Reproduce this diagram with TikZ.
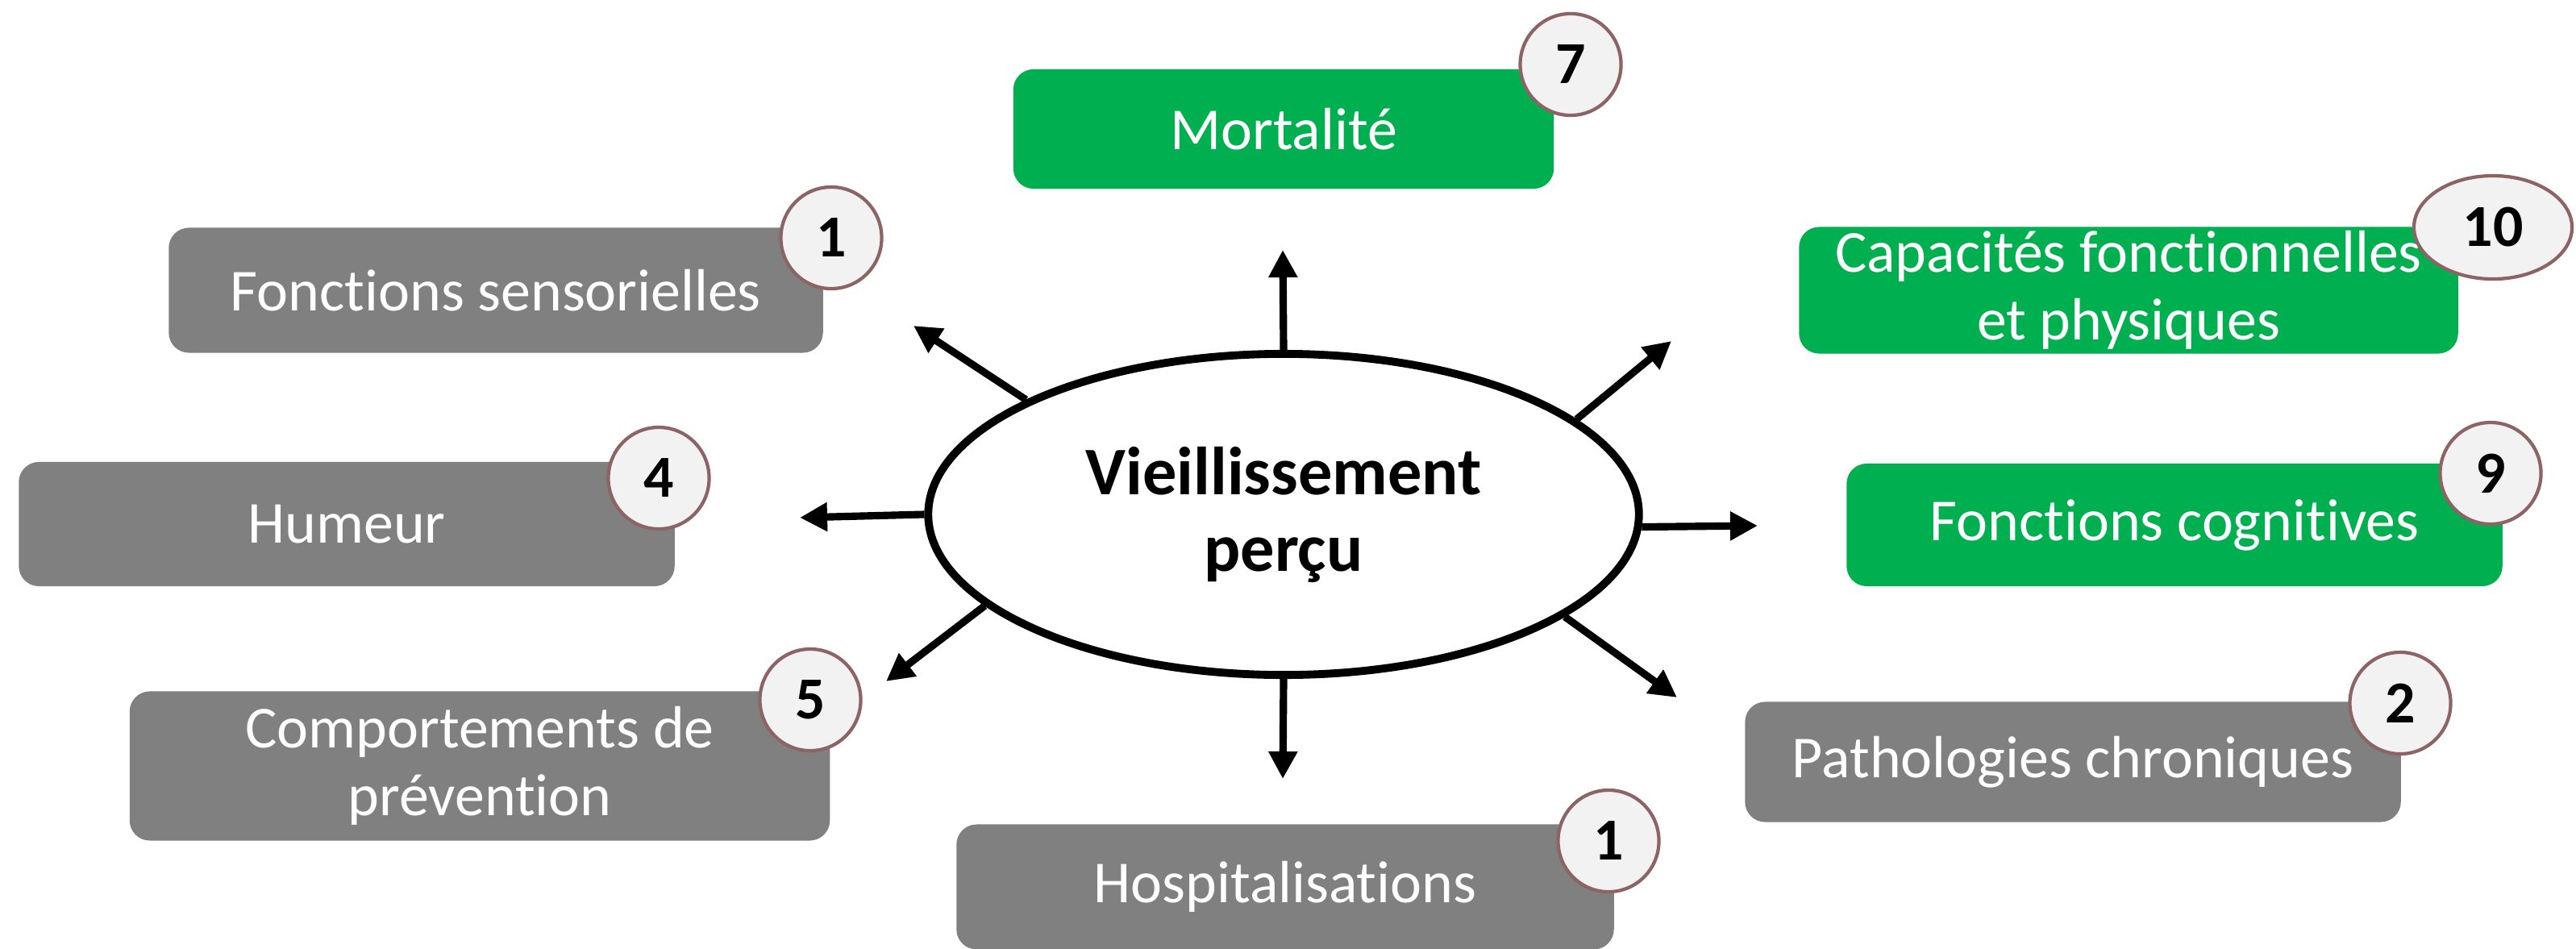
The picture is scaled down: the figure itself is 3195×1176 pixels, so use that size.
\documentclass[tikz,border=0pt]{standalone}
\usepackage{fontspec}
\setmainfont{Carlito}[Ligatures=NoCommon]
\usepackage{tikz}
\usetikzlibrary{arrows.meta, shapes.geometric}
\definecolor{boxgray}{RGB}{128,128,128}
\definecolor{boxgreen}{RGB}{0,176,80}
\definecolor{badgefill}{RGB}{242,242,242}
\definecolor{badgeline}{RGB}{140,100,100}

\begin{document}
\begin{tikzpicture}[x=0.01cm, y=-0.01cm,
  item/.style={rounded corners=0.25cm, text=white, align=center, inner sep=0pt,
    minimum width=8.13cm, minimum height=1.54cm, font=\fontsize{21}{24}\selectfont},
  grayitem/.style={item, fill=boxgray},
  greenitem/.style={item, fill=boxgreen},
  badge/.style={ellipse, fill=badgefill, draw=badgeline, line width=1.2pt, inner sep=0pt,
    minimum width=1.25cm, minimum height=1.26cm, font=\fontsize{21}{24}\selectfont\bfseries},
  ray/.style={line width=2.6pt, -{Triangle[length=0.34cm, width=0.34cm]}}]
  \useasboundingbox (0,0) rectangle (3195,1176);

  \node[greenitem, minimum width=6.70cm, minimum height=1.48cm] (mort) at (1592,160) {Mortalité};
  \node[grayitem, minimum width=8.11cm, minimum height=1.55cm] (sens) at (615,360) {Fonctions sensorielles};
  \node[grayitem] (hum) at (430,650) {Humeur};
  \node[grayitem, minimum width=8.68cm, minimum height=1.85cm] (comp) at (595,950) {Comportements de\\prévention};
  \node[grayitem, minimum width=8.15cm, minimum height=1.55cm] (hosp) at (1594,1100) {Hospitalisations};
  \node[greenitem, minimum width=8.17cm, minimum height=1.57cm] (capa) at (2640,360) {Capacités fonctionnelles\\et physiques};
  \node[greenitem, minimum height=1.52cm] (cogn) at (2697,651) {Fonctions cognitives};
  \node[grayitem, minimum height=1.49cm] (path) at (2571,945) {Pathologies chroniques};

  \node[badge] (nmort) at (1948,80) {7};
  \node[badge] (nsens) at (1031,295) {1};
  \node[badge] (nhum) at (817,593) {4};
  \node[badge] (ncomp) at (1005,868) {5};
  \node[badge] (nhosp) at (1995,1043) {1};
  \node[badge, minimum width=1.96cm, minimum height=1.28cm] (ncapa) at (3092,282) {10};
  \node[badge] (ncogn) at (3089,587) {9};
  \node[badge] (npath) at (2977,872) {2};

  \node[ellipse, draw, fill=white, line width=2.8pt, inner sep=0pt,
    minimum width=8.81cm, minimum height=3.98cm, align=center,
    font=\fontsize{24}{27}\selectfont\bfseries] (ell) at (1592,638) {Vieillissement\\perçu};

  \coordinate (tmort) at (1591,310);
  \coordinate (tsens) at (1133,404);
  \coordinate (thum) at (992,642);
  \coordinate (tcomp) at (1099,845);
  \coordinate (thosp) at (1591,966);
  \coordinate (tcapa) at (2073,423);
  \coordinate (tcogn) at (2180,652);
  \coordinate (tpath) at (2080,865);

  \draw[ray] (ell.90) -- (tmort);
  \draw[ray] (ell.156.6) -- (tsens);
  \draw[ray] (ell.180) -- (thum);
  \draw[ray] (ell.197.5) -- (tcomp);
  \draw[ray] (ell.270) -- (thosp);
  \draw[ray] (ell.18.9) -- (tcapa);
  \draw[ray] (ell.358.2) -- (tcogn);
  \draw[ray] (ell.340.9) -- (tpath);
\end{tikzpicture}
\end{document}
